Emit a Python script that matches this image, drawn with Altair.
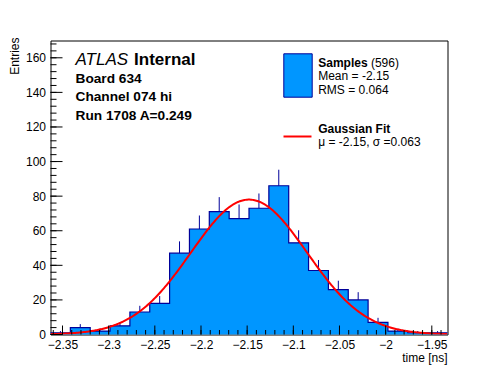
import altair as alt
import pandas as pd
import numpy as np

# ---- data ----
x_min, x_max = -2.363, -1.933
n_bins = 20
counts = [1, 4, 2, 5, 13, 18, 47, 61, 71, 67, 73, 86, 53, 37, 26, 20, 7, 2, 1, 1]
x_ticks_major = [-2.35, -2.3, -2.25, -2.2, -2.15, -2.1, -2.05, -2.0, -1.95]
y_ticks_major = [0, 20, 40, 60, 80, 100, 120, 140, 160]
y_max = 170
fit_amp, fit_mu, fit_sigma = 78.0, -2.148, 0.063

FILL = "#0096ff"
EDGE = "#000099"
FONT = "Liberation Sans"
W, H = 397, 294

edges = np.linspace(x_min, x_max, n_bins + 1)
hist = pd.DataFrame({"lo": edges[:-1], "hi": edges[1:], "n": counts})
hist["mid"] = (hist.lo + hist.hi) / 2
hist["top"] = hist.n + np.sqrt(hist.n)
step = pd.DataFrame({"x": edges, "n": counts + [counts[-1]]})

x_minor = pd.DataFrame({"v": np.round(np.arange(-2.36, -1.935, 0.01), 3)})
x_major = pd.DataFrame({"v": x_ticks_major})
y_minor = pd.DataFrame({"v": np.arange(0, 169, 4)})
y_major = pd.DataFrame({"v": y_ticks_major})

xs = alt.Scale(domain=[x_min, x_max], nice=False, zero=False)
ys = alt.Scale(domain=[0, y_max], nice=False)

x_axis = alt.Axis(values=x_ticks_major, format=".2~f", ticks=False, domain=False,
                  grid=False, labelFontSize=12, labelFont=FONT, labelPadding=5,
                  labelColor="black", labelOverlap=False, title=None)
y_axis = alt.Axis(values=y_ticks_major, format="d", ticks=False, domain=False, grid=False,
                  labelFontSize=12, labelFont=FONT, labelPadding=5,
                  labelColor="black", labelOverlap=False, title=None)

fill = alt.Chart(step).mark_area(interpolate="step-after", color=FILL, opacity=1).encode(
    x=alt.X("x:Q", scale=xs, axis=x_axis),
    y=alt.Y("n:Q", scale=ys, axis=y_axis),
)

errs = alt.Chart(hist).mark_rule(color=EDGE, strokeWidth=1).encode(
    x=alt.X("mid:Q", axis=x_axis), y=alt.Y("n:Q", axis=y_axis), y2="top:Q")

outline = alt.Chart(step).mark_line(interpolate="step-after", color=EDGE, strokeWidth=1.2).encode(
    x=alt.X("x:Q", axis=x_axis), y=alt.Y("n:Q", axis=y_axis))

fit = alt.Chart(alt.sequence(x_min, x_max + 0.0005, 0.001, as_="x")).transform_calculate(
    y=f"{fit_amp}*exp(-0.5*pow((datum.x-({fit_mu}))/{fit_sigma},2))"
).mark_line(color="#ff0000", strokeWidth=2, clip=True).encode(
    x=alt.X("x:Q", axis=x_axis), y=alt.Y("y:Q", axis=y_axis))

xt_major = alt.Chart(x_major).mark_rule(color="black").encode(
    x=alt.X("v:Q", axis=x_axis), y=alt.value(H), y2=alt.value(H - 9))
xt_minor = alt.Chart(x_minor).mark_rule(color="black").encode(
    x=alt.X("v:Q", axis=x_axis), y=alt.value(H), y2=alt.value(H - 4.5))
yt_major = alt.Chart(y_major).mark_rule(color="black").encode(
    y=alt.Y("v:Q", axis=y_axis), x=alt.value(0), x2=alt.value(12))
yt_minor = alt.Chart(y_minor).mark_rule(color="black").encode(
    y=alt.Y("v:Q", axis=y_axis), x=alt.value(0), x2=alt.value(6))

one = pd.DataFrame({"k": [0]})


def txt(s, x, y, size=12, weight="normal", style="normal", align="left", angle=0, color="black"):
    kw = dict(text=s, fontSize=size, fontWeight=weight, fontStyle=style, font=FONT,
              align=align, baseline="alphabetic", color=color)
    if angle:
        kw["angle"] = angle
    return alt.Chart(one).mark_text(**kw).encode(x=alt.value(x), y=alt.value(y))


legend_box = alt.Chart(one).mark_rect(color=FILL, stroke=EDGE, strokeWidth=1).encode(
    x=alt.value(233.3), x2=alt.value(261.7), y=alt.value(13.3), y2=alt.value(56.7))
legend_line = alt.Chart(one).mark_rule(color="#ff0000", strokeWidth=2).encode(
    x=alt.value(233), x2=alt.value(261), y=alt.value(96))

texts = [
    txt("ATLAS", 25, 24, size=17, style="italic"),
    txt("Internal", 83.6, 24, size=17, weight="bold"),
    txt("Board 634", 25, 42, size=13.7, weight="bold"),
    txt("Channel 074 hi", 25, 60, size=13.7, weight="bold"),
    txt("Run 1708 A=0.249", 25, 79, size=13.7, weight="bold"),
    txt("Samples", 267.7, 26, weight="bold"),
    txt("(596)", 320.4, 26),
    txt("Mean = -2.15", 267.7, 39.5),
    txt("RMS = 0.064", 267.7, 53.3),
    txt("Gaussian Fit", 267.7, 92.5, weight="bold"),
    txt("\u03bc = -2.15, \u03c3 =0.063", 267.7, 105.5),
    txt("time [ns]", W, 321, align="right"),
    txt("Entries", -32, -3, align="right", angle=270),
]

chart = alt.layer(
    fill, errs, outline, fit, xt_major, xt_minor, yt_major, yt_minor,
    legend_box, legend_line, *texts
).properties(
    width=W, height=H, autosize="none",
    padding={"left": 42.5, "top": 32.5, "right": 30, "bottom": 30},
).configure_view(stroke="black", strokeWidth=1, fill="white"
).configure_axis(labelOverlap=False)

chart.save("out.html", embed_options={"renderer": "svg", "actions": False})
